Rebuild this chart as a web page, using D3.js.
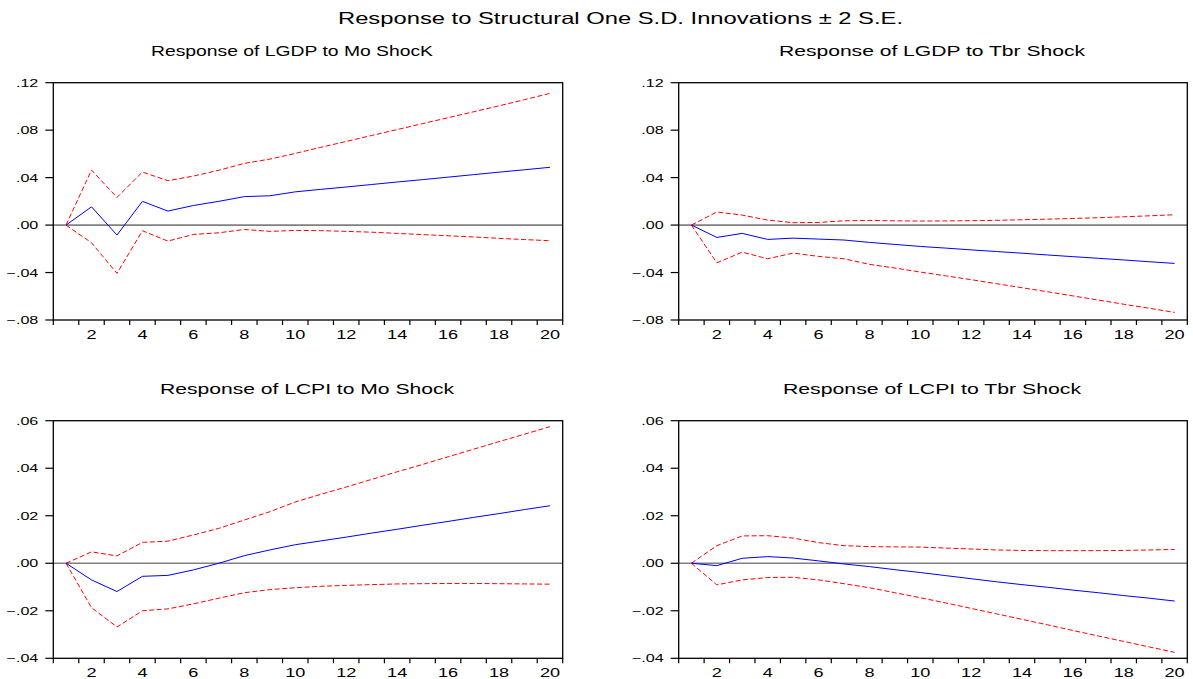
<!DOCTYPE html>
<html>
<head>
<meta charset="utf-8">
<script src="https://cdn.jsdelivr.net/npm/d3@7/dist/d3.min.js"></script>
<style>
body { margin: 0; background: #fff; }
text { font-family: Arial, "Liberation Sans", sans-serif; fill: #000; }
</style>
</head>
<body>
<div id="chart"></div>
<script>
// periods after the shock
var periods = [1, 2, 3, 4, 5, 6, 7, 8, 9, 10, 11, 12, 13, 14, 15, 16, 17, 18, 19, 20];
var xTickLabels = [2, 4, 6, 8, 10, 12, 14, 16, 18, 20];
var lgdpTicks = [-0.08, -0.04, 0.00, 0.04, 0.08, 0.12];
var lcpiTicks = [-0.04, -0.02, 0.00, 0.02, 0.04, 0.06];

// LGDP to Mo shock
var lgdpMoResp  = [0, 0.0154, -0.0084, 0.0200, 0.0118, 0.0165, 0.0200, 0.0240, 0.0247, 0.0280, 0.0301, 0.0321, 0.0342, 0.0363, 0.0383, 0.0404, 0.0425, 0.0446, 0.0466, 0.0487];
var lgdpMoUpper = [0, 0.0464, 0.0233, 0.0447, 0.0374, 0.0413, 0.0462, 0.0520, 0.0556, 0.0604, 0.0655, 0.0705, 0.0755, 0.0805, 0.0855, 0.0905, 0.0955, 0.1005, 0.1057, 0.1110];
var lgdpMoLower = [0, -0.0149, -0.0407, -0.0048, -0.0135, -0.0079, -0.0065, -0.0037, -0.0053, -0.0045, -0.0047, -0.0053, -0.0060, -0.0070, -0.0080, -0.0090, -0.0100, -0.0112, -0.0122, -0.0132];

// LGDP to Tbr shock
var lgdpTbrResp  = [0, -0.0104, -0.0070, -0.0121, -0.0110, -0.0118, -0.0126, -0.0146, -0.0163, -0.0180, -0.0194, -0.0209, -0.0223, -0.0237, -0.0252, -0.0266, -0.0280, -0.0294, -0.0309, -0.0323];
var lgdpTbrUpper = [0, 0.0110, 0.0084, 0.0042, 0.0020, 0.0022, 0.0036, 0.0039, 0.0036, 0.0034, 0.0035, 0.0037, 0.0040, 0.0045, 0.0050, 0.0056, 0.0062, 0.0070, 0.0078, 0.0087];
var lgdpTbrLower = [0, -0.0318, -0.0228, -0.0284, -0.0236, -0.0264, -0.0284, -0.0331, -0.0362, -0.0396, -0.0428, -0.0460, -0.0494, -0.0528, -0.0562, -0.0597, -0.0632, -0.0667, -0.0701, -0.0736];

// LCPI to Mo shock
var lcpiMoResp  = [0, -0.0070, -0.0119, -0.0055, -0.0051, -0.0028, 0.0000, 0.0032, 0.0056, 0.0078, 0.0094, 0.0110, 0.0127, 0.0143, 0.0160, 0.0176, 0.0193, 0.0209, 0.0226, 0.0242];
var lcpiMoUpper = [0, 0.0048, 0.0031, 0.0088, 0.0093, 0.0119, 0.0147, 0.0182, 0.0217, 0.0258, 0.0290, 0.0321, 0.0353, 0.0385, 0.0416, 0.0448, 0.0480, 0.0512, 0.0543, 0.0575];
var lcpiMoLower = [0, -0.0187, -0.0268, -0.0200, -0.0192, -0.0171, -0.0147, -0.0124, -0.0111, -0.0103, -0.0097, -0.0093, -0.0090, -0.0087, -0.0086, -0.0085, -0.0085, -0.0086, -0.0087, -0.0088];

// LCPI to Tbr shock
var lcpiTbrResp  = [0, -0.0010, 0.0021, 0.0028, 0.0022, 0.0010, -0.0003, -0.0014, -0.0027, -0.0039, -0.0052, -0.0065, -0.0078, -0.0090, -0.0101, -0.0113, -0.0124, -0.0136, -0.0147, -0.0159];
var lcpiTbrUpper = [0, 0.0074, 0.0115, 0.0116, 0.0106, 0.0087, 0.0074, 0.0070, 0.0069, 0.0068, 0.0064, 0.0060, 0.0056, 0.0054, 0.0053, 0.0053, 0.0053, 0.0054, 0.0056, 0.0058];
var lcpiTbrLower = [0, -0.0091, -0.0070, -0.0060, -0.0059, -0.0070, -0.0086, -0.0103, -0.0124, -0.0145, -0.0167, -0.0190, -0.0213, -0.0236, -0.0259, -0.0283, -0.0306, -0.0329, -0.0352, -0.0375];

var panels = [
	{title: "Response of LGDP to Mo ShocK", resp: lgdpMoResp, upper: lgdpMoUpper, lower: lgdpMoLower, ticks: lgdpTicks,
	 left: 53.3, right: 562.7, top: 82.7, bottom: 320, titleX: 151, titleW: 282, titleY: 56},
	{title: "Response of LGDP to Tbr Shock", resp: lgdpTbrResp, upper: lgdpTbrUpper, lower: lgdpTbrLower, ticks: lgdpTicks,
	 left: 678.7, right: 1187.3, top: 82.7, bottom: 320, titleX: 779, titleW: 306, titleY: 56},
	{title: "Response of LCPI to Mo Shock", resp: lcpiMoResp, upper: lcpiMoUpper, lower: lcpiMoLower, ticks: lcpiTicks,
	 left: 53.3, right: 562.7, top: 420.7, bottom: 658.3, titleX: 160, titleW: 294, titleY: 394},
	{title: "Response of LCPI to Tbr Shock", resp: lcpiTbrResp, upper: lcpiTbrUpper, lower: lcpiTbrLower, ticks: lcpiTicks,
	 left: 678.7, right: 1187.3, top: 420.7, bottom: 658.3, titleX: 783, titleW: 298, titleY: 394}
];

var w = 1193, h = 679;
var svg = d3.select("#chart").append("svg")
	.attr("width", w)
	.attr("height", h);

svg.append("text")
	.attr("x", 338)
	.attr("y", 24)
	.attr("textLength", 565)
	.attr("lengthAdjust", "spacingAndGlyphs")
	.style("font-size", "16.5px")
	.text("Response to Structural One S.D. Innovations \u00b1 2 S.E.");

var fmt = function(d){
	return d3.format(".2f")(d).replace("0.", ".");
};

panels.forEach(function(p){ draw(p); });

function draw(p){
	var x = d3.scaleLinear().domain([0.5, 20.5]).range([p.left, p.right]);
	var y = d3.scaleLinear().domain([p.ticks[0], p.ticks[p.ticks.length - 1]]).range([p.bottom, p.top]);

	var g = svg.append("g");

	g.append("text")
		.attr("x", p.titleX)
		.attr("y", p.titleY)
		.attr("textLength", p.titleW)
		.attr("lengthAdjust", "spacingAndGlyphs")
		.style("font-size", "14px")
		.text(p.title);

	// x ticks sit between periods, labels on even periods
	var xTicks = periods.map(function(d){ return d - 0.5; }).concat([20.5]);
	g.selectAll(".xtick")
		.data(xTicks)
		.enter().append("line")
		.attr("class", "xtick")
		.attr("x1", function(d){ return x(d); })
		.attr("x2", function(d){ return x(d); })
		.attr("y1", p.bottom)
		.attr("y2", p.bottom + 5)
		.attr("stroke", "#000")
		.attr("stroke-width", 1.2);

	g.selectAll(".xlab")
		.data(xTickLabels)
		.enter().append("text")
		.attr("class", "xlab")
		.attr("text-anchor", "middle")
		.attr("transform", function(d){ return "translate(" + x(d) + "," + (p.bottom + 19) + ") scale(1.45,1)"; })
		.style("font-size", "12.5px")
		.text(function(d){ return d; });

	g.selectAll(".ytick")
		.data(p.ticks)
		.enter().append("line")
		.attr("class", "ytick")
		.attr("x1", p.left - 8)
		.attr("x2", p.left)
		.attr("y1", function(d){ return y(d); })
		.attr("y2", function(d){ return y(d); })
		.attr("stroke", "#000")
		.attr("stroke-width", 1.2);

	g.selectAll(".ylab")
		.data(p.ticks)
		.enter().append("text")
		.attr("class", "ylab")
		.attr("text-anchor", "end")
		.attr("dy", "0.36em")
		.attr("transform", function(d){ return "translate(" + (p.left - 15) + "," + y(d) + ") scale(1.4,1)"; })
		.style("font-size", "11.5px")
		.text(fmt);

	// zero line
	g.append("line")
		.attr("x1", p.left)
		.attr("x2", p.right)
		.attr("y1", y(0))
		.attr("y2", y(0))
		.attr("stroke", "#808080")
		.attr("stroke-width", 1.6);

	var line = d3.line()
		.x(function(d, i){ return x(periods[i]); })
		.y(function(d){ return y(d); });

	g.append("path")
		.attr("d", line(p.upper))
		.attr("fill", "none")
		.attr("stroke", "#ff0000")
		.attr("stroke-width", 1)
		.attr("stroke-dasharray", "5,2.5");

	g.append("path")
		.attr("d", line(p.lower))
		.attr("fill", "none")
		.attr("stroke", "#ff0000")
		.attr("stroke-width", 1)
		.attr("stroke-dasharray", "5,2.5");

	g.append("path")
		.attr("d", line(p.resp))
		.attr("fill", "none")
		.attr("stroke", "#0000ff")
		.attr("stroke-width", 1);

	g.append("rect")
		.attr("x", p.left)
		.attr("y", p.top)
		.attr("width", p.right - p.left)
		.attr("height", p.bottom - p.top)
		.attr("fill", "none")
		.attr("stroke", "#000")
		.attr("stroke-width", 1.3);
}
</script>
</body>
</html>
